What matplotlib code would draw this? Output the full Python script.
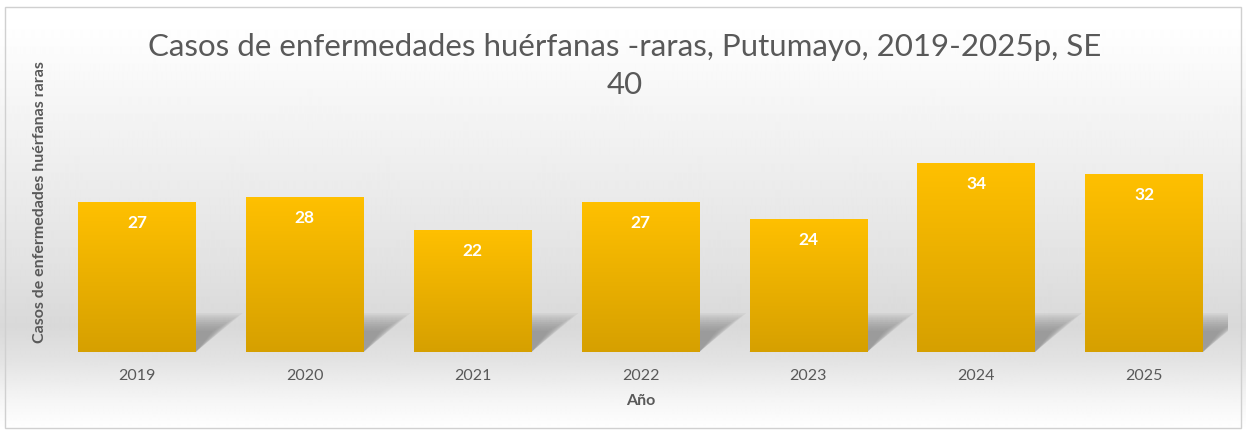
import matplotlib
matplotlib.use("Agg")
import matplotlib.pyplot as plt
import numpy as np
from matplotlib.patches import Rectangle, Polygon

years = ["2019", "2020", "2021", "2022", "2023", "2024", "2025"]
cases = [27, 28, 22, 27, 24, 34, 32]

title = "Casos de enfermedades huérfanas -raras, Putumayo, 2019-2025p, SE\n40"
ylabel = "Casos de enfermedades huérfanas raras"
xlabel = "Año"

gray_text = "#595959"
plt.rcParams['font.family'] = ['Lato', 'DejaVu Sans']

fig = plt.figure(figsize=(12.46, 4.30), dpi=100)

# background gradient over the whole figure (white -> light gray -> white)
bg = fig.add_axes([0, 0, 1, 1], zorder=-10)
rows = np.linspace(0, 1, 430)
stops_y = [0.0, 0.05, 0.30, 0.60, 0.76, 0.84, 0.93, 1.0]
stops_v = [1.0, 1.0, 0.95, 0.89, 0.85, 0.89, 0.96, 1.0]
shade = np.interp(rows, stops_y, stops_v)
bg.imshow(np.repeat(shade[:, None], 4, axis=1), cmap="gray", vmin=0, vmax=1,
          aspect="auto", extent=[0, 1, 0, 1], interpolation="bilinear")
bg.set_axis_off()

# light frame round the chart
fig.patches.append(Rectangle((5 / 1246, 2 / 430), 1236 / 1246, 421 / 430,
                             transform=fig.transFigure, fill=False,
                             edgecolor="#d0d0d0", linewidth=1))

ax = fig.add_axes([53 / 1246, 78 / 430, 1175 / 1246, 222 / 430])
ax.set_facecolor("none")
x = np.arange(len(years))
bars = ax.bar(x, cases, width=0.70, color="none", zorder=3)

grad = np.linspace(0, 1, 100)[:, None]
top_col = np.array([255, 192, 0]) / 255
bot_col = np.array([214, 160, 0]) / 255
grad_img = top_col * (1 - grad[..., None]) + bot_col * grad[..., None]
grad_img = np.repeat(grad_img, 2, axis=1)

for b, v in zip(bars, cases):
    bx, bw, bh = b.get_x(), b.get_width(), b.get_height()
    # soft diagonal shadow behind each bar
    for k in range(9):
        s = k * 0.022
        sh = Polygon([(bx + bw, 0), (bx + bw + 0.28 - s, 7.0 - s * 18),
                      (bx + 0.28, 7.0 - s * 18), (bx, 0)],
                     closed=True, facecolor="#666666", edgecolor="none",
                     alpha=0.08, zorder=1)
        ax.add_patch(sh)
    im = ax.imshow(grad_img, extent=[bx, bx + bw, 0, bh], aspect="auto",
                   zorder=3, interpolation="bilinear")
    im.set_clip_path(b)
    ax.text(bx + bw / 2, bh - 3.8, str(v), ha="center", va="center",
            color="white", fontsize=12.5, fontweight="bold", zorder=5)

ax.set_xlim(-0.5, len(years) - 0.5)
ax.set_ylim(0, 40)
ax.set_xticks(x)
ax.set_xticklabels(years, fontsize=11.5, color=gray_text)
ax.tick_params(axis="x", length=0, pad=12)
ax.set_yticks([])
for sp in ax.spines.values():
    sp.set_visible(False)

ax.set_xlabel(xlabel, fontsize=11.5, fontweight="bold", color=gray_text, labelpad=8)
fig.text(40 / 1246, 1 - 202 / 430, ylabel, rotation=90, ha="center", va="center",
         fontsize=11.5, fontweight="bold", color=gray_text)
fig.text(625 / 1246, 1 - 66 / 430, title, ha="center", va="center",
         fontsize=22.5, color=gray_text, linespacing=1.45)

fig.savefig("out.png", dpi=100)
